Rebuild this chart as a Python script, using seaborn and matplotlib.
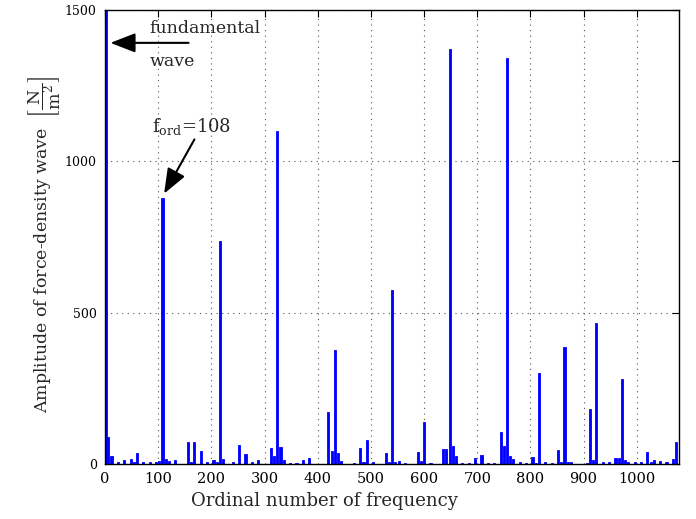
import numpy as np
import pandas as pd
import matplotlib
matplotlib.use("Agg")
import matplotlib.pyplot as plt
import seaborn as sns

# ordinal numbers of the force-density harmonics and their amplitudes (N/m^2)
ordinal = [2, 6, 12, 24, 36, 48, 54, 60, 72, 84, 96, 102, 108, 114, 120, 132,
           156, 162, 168, 180, 192, 204, 210, 216, 222, 240, 252, 264, 276, 288,
           312, 318, 324, 330, 336, 348, 360, 372, 384, 420, 426, 432, 438, 444,
           468, 480, 486, 492, 504, 528, 534, 540, 546, 552, 564, 588, 594, 600,
           612, 636, 642, 648, 654, 660, 672, 684, 696, 708, 720, 732, 744, 750,
           756, 762, 768, 780, 792, 804, 810, 816, 828, 840, 852, 858, 864, 870,
           876, 906, 912, 918, 924, 936, 948, 960, 966, 972, 978, 984, 996, 1008,
           1020, 1026, 1032, 1044, 1056, 1068, 1074]
amplitude = [1500, 90, 25, 5, 14, 17, 5, 36, 5, 5, 5, 10, 880, 17, 10, 12,
             72, 5, 73, 42, 7, 12, 8, 737, 15, 5, 64, 34, 8, 12,
             53, 27, 1100, 55, 12, 3, 3, 14, 21, 172, 43, 377, 36, 10,
             3, 52, 7, 80, 5, 35, 5, 575, 7, 10, 3, 41, 10, 139,
             3, 49, 51, 1371, 59, 25, 3, 3, 19, 30, 3, 3, 105, 60,
             1340, 28, 18, 5, 3, 23, 3, 300, 5, 3, 47, 8, 386, 5,
             5, 3, 182, 14, 467, 5, 5, 19, 19, 280, 14, 8, 5, 5,
             39, 5, 14, 10, 5, 17, 72]

df = pd.DataFrame({"ordinal": ordinal, "amplitude": amplitude})

sns.set_style("white")
plt.rcParams["font.family"] = ["DejaVu Serif"]
plt.rcParams["mathtext.fontset"] = "dejavuserif"

fig = plt.figure(figsize=(6.96, 5.19), dpi=100)
ax = fig.add_axes([0.151, 0.106, 0.825, 0.875])

sns.barplot(data=df, x="ordinal", y="amplitude", native_scale=True,
            color="#0000ff", saturation=1, width=1.0, linewidth=0.6,
            edgecolor="#0000ff", ax=ax)

ax.set_xlim(0, 1080)
ax.set_ylim(0, 1500)
ax.set_xticks(np.arange(0, 1001, 100))
ax.set_yticks([0, 500, 1000, 1500])
ax.grid(True, linestyle=(0, (1, 4)), color="#555555", linewidth=0.8)
ax.set_axisbelow(True)
for s in ax.spines.values():
    s.set_visible(True)
    s.set_color("black")
    s.set_linewidth(1.0)
ax.tick_params(direction="in", length=5, width=0.8, top=True, right=True,
               labelsize=9, pad=6, colors="black")
ax.tick_params(axis="x", labelsize=10.5)

ax.set_xlabel("Ordinal number of frequency", fontsize=13)
ax.xaxis.set_label_coords(0.3815, -0.062)
ax.set_ylabel(r"Amplitude of force-density wave  $\left[\dfrac{\mathrm{N}}{\mathrm{m}^2}\right]$",
              fontsize=12.5)
ax.yaxis.set_label_coords(-0.073, 0.483)

arrow = dict(arrowstyle="-|>,head_length=0.9,head_width=0.35",
             mutation_scale=17, lw=1.5, color="black", shrinkA=0, shrinkB=0)
ax.annotate("", xy=(10, 1391), xytext=(157, 1391), arrowprops=arrow)
ax.text(84, 1438, "fundamental", fontsize=12.5, va="center", ha="left")
ax.text(84, 1330, "wave", fontsize=12.5, va="center", ha="left")

ax.text(88, 1115, r"f$_{\mathrm{ord}}$=108", fontsize=13, va="center", ha="left")
ax.annotate("", xy=(111, 893), xytext=(168, 1072), arrowprops=arrow)

fig.savefig("out.png", dpi=100)
